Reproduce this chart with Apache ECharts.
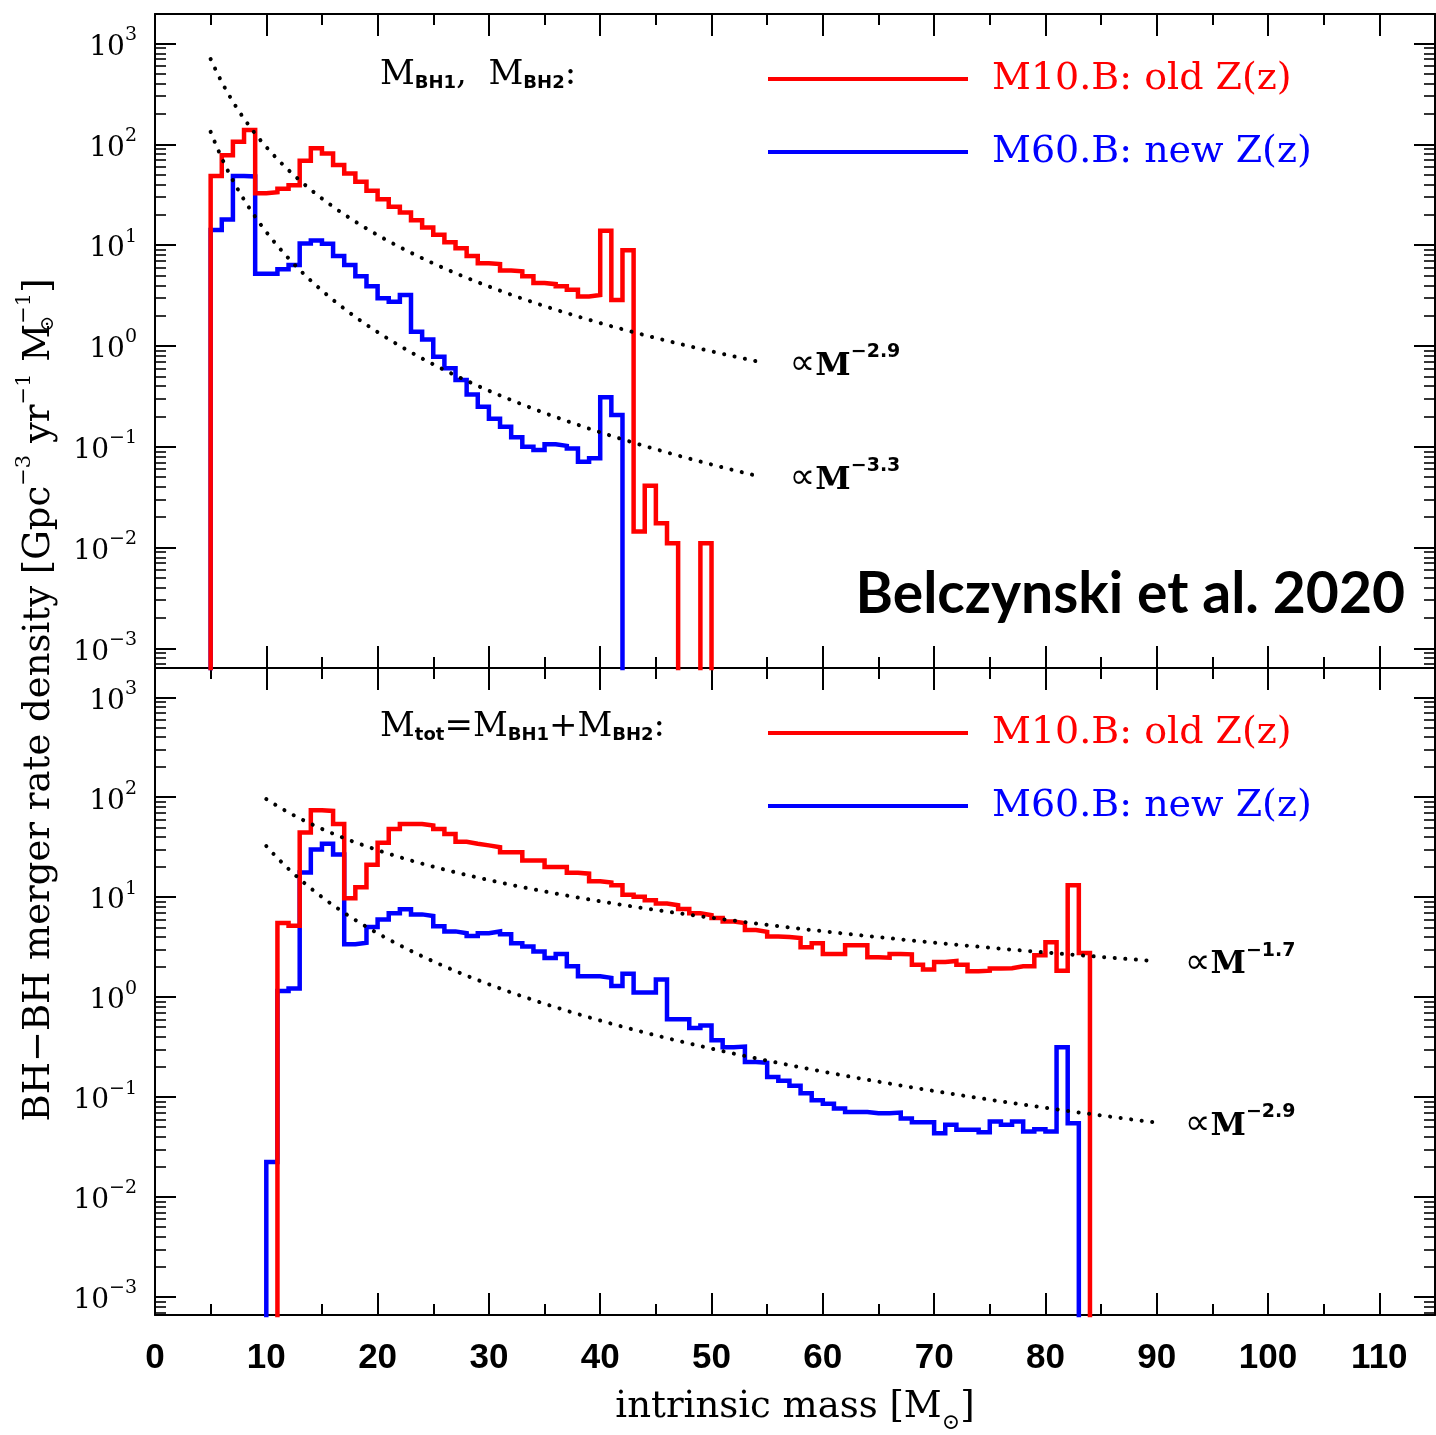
<!DOCTYPE html>
<html>
<head>
<meta charset="utf-8">
<script src="https://cdn.jsdelivr.net/npm/echarts@6/dist/echarts.min.js"></script>
<style>
  html, body { margin: 0; padding: 0; background: #ffffff; }
  #chart { width: 1436px; height: 1435px; }
</style>
</head>
<body>
<div id="chart"></div>
<script>
// ---- Data: BH-BH merger rate density, 1 Msun wide mass bins ----
const seriesNames = ['M10.B: old Z(z)', 'M60.B: new Z(z)'];

// Upper panel: component masses (M_BH1, M_BH2); bins start at 5 Msun
const topRedStart = 5;
const topRed = [48.5, 78, 106, 139, 32.7, 33.5, 36.3, 39.2, 68.8, 91.2,
  81.3, 62.3, 51.5, 42.6, 34.7, 28.5, 24.0, 21.1, 17.7, 15.0,
  12.7, 10.7, 9.3, 7.8, 6.6, 6.5, 5.6, 5.5, 4.9, 4.2,
  4.1, 3.9, 3.6, 3.1, 3.2, 13.9, 2.85, 8.9, 0.0144, 0.041,
  0.0174, 0.011, 0, 0, 0.011];
const topBlueStart = 5;
const topBlue = [14.1, 18.0, 48.5, 48, 5.2, 5.2, 5.75, 6.35, 10.4, 11.1,
  10.3, 7.8, 6.35, 4.9, 3.9, 2.97, 2.75, 3.2, 1.38, 1.16,
  0.78, 0.60, 0.46, 0.33, 0.25, 0.19, 0.158, 0.124, 0.100, 0.093,
  0.106, 0.102, 0.096, 0.071, 0.077, 0.31, 0.206];

// Lower panel: total mass M_tot = M_BH1 + M_BH2
const botRedStart = 11;
const botRed = [5.53, 5.19, 44.4, 74.1, 73, 54.1, 9.75, 12.6, 21.1, 35.1,
  48.2, 54.1, 54.1, 52.1, 48.2, 42.8, 35.9, 34.3, 33, 31.6,
  28.2, 28.2, 23.3, 23.3, 20.0, 20.0, 17.6, 17.2, 14.4, 14.0,
  13.2, 10.6, 10.1, 9.3, 8.65, 8.3, 7.6, 6.9, 6.6, 6.2,
  5.7, 5.5, 4.7, 4.5, 4.05, 4.0, 3.9, 3.15, 3.47, 2.70,
  2.70, 3.30, 3.30, 2.50, 2.48, 2.70, 2.68, 2.11, 1.89, 2.25,
  2.3, 2.11, 1.82, 1.84, 1.93, 1.95, 2.04, 2.04, 2.62, 3.55,
  1.84, 13.2, 2.77];
const botBlueStart = 10;
const botBlue = [0.0224, 1.15, 1.22, 17.7, 30.0, 34.3, 26.7, 3.39, 3.5, 5.03,
  5.98, 6.9, 7.57, 6.73, 6.48, 5.11, 4.55, 4.36, 4.1, 4.36,
  4.54, 4.27, 3.47, 3.22, 2.87, 2.47, 2.70, 2.04, 1.62, 1.62,
  1.56, 1.29, 1.71, 1.11, 1.11, 1.50, 0.60, 0.60, 0.49, 0.52,
  0.37, 0.315, 0.32, 0.224, 0.22, 0.159, 0.146, 0.13, 0.109, 0.093,
  0.086, 0.077, 0.071, 0.071, 0.069, 0.069, 0.070, 0.061, 0.056, 0.056,
  0.0436, 0.0528, 0.0471, 0.0471, 0.0446, 0.0569, 0.0528, 0.0569, 0.0453, 0.0478,
  0.0453, 0.315, 0.0547];

// Reference power laws  A * (M/10)^(-k): exponents, value at M = 10, mass range
const topPowerExp = [2.9, 3.3];
const topPowerAt10 = [94, 13.5];
const topPowerRange = [5, 54.5];
const botPowerExp = [1.7, 2.9];
const botPowerAt10 = [96, 32.5];
const botPowerRange = [10, 90];

// Axis ranges
const massRange = [0, 115];
const topLogRange = [-3.195, 3.293];
const botLogRange = [-3.18, 3.293];

// ---- helpers ----
const FLOOR = 1e-6;               // empty bins drop below the axis
const SERIF = '"DejaVu Serif", serif';
const BOLDSANS = '"Liberation Sans", "DejaVu Sans", sans-serif';
const RED = '#ff0000', BLUE = '#0000ff';

function histSteps(start, vals) {
  const pts = [[start, FLOOR]];
  vals.forEach((v, i) => pts.push([start + i, v > 0 ? v : FLOOR]));
  pts.push([start + vals.length, FLOOR]);
  return pts;
}
function powerLaw(k, at10, range) {
  const pts = [];
  for (let m = range[0]; m <= range[1] + 1e-9; m += 0.5) {
    pts.push([m, at10 * Math.pow(m / 10, -k)]);
  }
  return pts;
}
function expLabel(v) {
  const l = Math.log10(v);
  const e = Math.round(l);
  if (Math.abs(l - e) > 1e-6) return '';
  return '{b|10}{s|' + (e < 0 ? '\u2212' + (-e) : e) + '}';
}

function xAxisCfg(gridIndex, position, withLabels) {
  const cfg = {
    type: 'value', gridIndex, position, min: massRange[0], max: massRange[1], interval: 10,
    axisLine: { show: true, onZero: false, lineStyle: { color: '#000', width: 2 } },
    axisTick: { show: true, inside: true, length: 22, lineStyle: { color: '#000', width: 2 } },
    minorTick: { show: true, splitNumber: 2, length: 11, lineStyle: { color: '#000', width: 2 } },
    splitLine: { show: false },
    minorSplitLine: { show: false },
    axisLabel: { show: false }
  };
  if (withLabels) {
    cfg.axisLabel = {
      show: true, showMaxLabel: false, margin: 26,
      fontFamily: BOLDSANS, fontWeight: 'bold', fontSize: 35, color: '#000'
    };
    cfg.name = 'intrinsic mass [M{sub|\u2299}]';
    cfg.nameLocation = 'middle';
    cfg.nameGap = 74;
    cfg.nameTextStyle = {
      fontFamily: SERIF, fontSize: 37, color: '#000',
      rich: { sub: { fontFamily: SERIF, fontSize: 22, verticalAlign: 'bottom', lineHeight: 22, padding: [0, 0, -8, 0] } }
    };
  }
  return cfg;
}

function yAxisCfg(gridIndex, position, range, withLabels) {
  return {
    type: 'log', logBase: 10, gridIndex, position,
    min: Math.pow(10, range[0]), max: Math.pow(10, range[1]),
    axisLine: { show: true, onZero: false, lineStyle: { color: '#000', width: 2 } },
    axisTick: { show: true, inside: true, length: 21, lineStyle: { color: '#000', width: 2 } },
    minorTick: { show: true, splitNumber: 9, length: 11, lineStyle: { color: '#000', width: 1.6 } },
    splitLine: { show: false },
    minorSplitLine: { show: false },
    axisLabel: withLabels ? {
      show: true, showMinLabel: false, showMaxLabel: false, margin: 18,
      formatter: expLabel,
      rich: {
        b: { fontFamily: SERIF, fontSize: 28, lineHeight: 36, verticalAlign: 'bottom', color: '#000' },
        s: { fontFamily: SERIF, fontSize: 19, lineHeight: 19, verticalAlign: 'top', color: '#000' }
      }
    } : { show: false }
  };
}

function histSeries(name, color, xi, yi, start, vals) {
  return {
    name, type: 'line', xAxisIndex: xi, yAxisIndex: yi, step: 'end',
    data: histSteps(start, vals), symbol: 'none', showSymbol: false,
    lineStyle: { color, width: 4.5, join: 'miter' }, itemStyle: { color },
    clip: true, silent: true, z: 3
  };
}

const powerRich = {
  p: { fontFamily: '"DejaVu Sans", sans-serif', fontSize: 36, lineHeight: 40, verticalAlign: 'bottom', color: '#000' },
  m: { fontFamily: SERIF, fontWeight: 'bold', fontSize: 32, lineHeight: 40, verticalAlign: 'bottom', color: '#000' },
  s: { fontFamily: '"DejaVu Sans", sans-serif', fontWeight: 'bold', fontSize: 19, lineHeight: 19, verticalAlign: 'top', color: '#000' }
};
function powerSeries(k, at10, range, xi, yi) {
  return {
    type: 'line', xAxisIndex: xi, yAxisIndex: yi,
    data: powerLaw(k, at10, range), symbol: 'none', showSymbol: false,
    lineStyle: { color: '#000', width: 4, type: [0.1, 10.5], cap: 'round' },
    clip: true, silent: true, z: 4,
    endLabel: {
      show: true, distance: 28,
      formatter: '{p|\u221D}{m|M}{s|\u2212' + k.toFixed(1) + '}',
      rich: powerRich
    }
  };
}

const legendText = { fontFamily: SERIF, fontSize: 38, lineHeight: 36, padding: [0, 0, 0, 19] };
function legendCfg(top) {
  return {
    left: 768, top, padding: 0, orient: 'vertical', icon: 'rect',
    itemWidth: 200, itemHeight: 4, itemGap: 35, selectedMode: false,
    textStyle: legendText,
    data: [
      { name: seriesNames[0], textStyle: { color: RED } },
      { name: seriesNames[1], textStyle: { color: BLUE } }
    ]
  };
}

const subRich = {
  m: { fontFamily: SERIF, fontSize: 34, lineHeight: 40, verticalAlign: 'bottom', fill: '#000' },
  sb: { fontFamily: '"DejaVu Sans", sans-serif', fontWeight: 'bold', fontSize: 18, lineHeight: 18, verticalAlign: 'bottom', fill: '#000' }
};

const chart = echarts.init(document.getElementById('chart'), null, { renderer: 'canvas' });
chart.setOption({
  animation: false,
  backgroundColor: '#ffffff',
  grid: [
    { left: 155, right: 1, top: 14, height: 654, containLabel: false },
    { left: 155, right: 1, top: 668, height: 652, containLabel: false }
  ],
  xAxis: [
    xAxisCfg(0, 'bottom', false),
    xAxisCfg(0, 'top', false),
    xAxisCfg(1, 'bottom', true),
    xAxisCfg(1, 'top', false)
  ],
  yAxis: [
    yAxisCfg(0, 'left', topLogRange, true),
    yAxisCfg(0, 'right', topLogRange, false),
    yAxisCfg(1, 'left', botLogRange, true),
    yAxisCfg(1, 'right', botLogRange, false)
  ],
  legend: [legendCfg(60), legendCfg(714)],
  series: [
    histSeries(seriesNames[1], BLUE, 0, 0, topBlueStart, topBlue),
    histSeries(seriesNames[0], RED, 0, 0, topRedStart, topRed),
    histSeries(seriesNames[1], BLUE, 2, 2, botBlueStart, botBlue),
    histSeries(seriesNames[0], RED, 2, 2, botRedStart, botRed),
    powerSeries(topPowerExp[0], topPowerAt10[0], topPowerRange, 0, 0),
    powerSeries(topPowerExp[1], topPowerAt10[1], topPowerRange, 0, 0),
    powerSeries(botPowerExp[0], botPowerAt10[0], botPowerRange, 2, 2),
    powerSeries(botPowerExp[1], botPowerAt10[1], botPowerRange, 2, 2)
  ],
  graphic: [
    {
      type: 'text', left: 380, top: 58, silent: true,
      style: { text: '{m|M}{sb|BH1}{m|,  M}{sb|BH2}{m|:}', rich: subRich }
    },
    {
      type: 'text', left: 380, top: 710, silent: true,
      style: { text: '{m|M}{sb|tot}{m|=M}{sb|BH1}{m|+M}{sb|BH2}{m|:}', rich: subRich }
    },
    {
      type: 'text', right: 31, top: 566, silent: true,
      style: {
        text: 'Belczynski et al. 2020',
        font: 'bold 57px "Lato", "Liberation Sans", sans-serif', fill: '#000'
      }
    },
    {
      type: 'text', x: 36, y: 700, rotation: Math.PI / 2, silent: true,
      style: {
        text: '{t|BH\u2212BH merger rate density [Gpc}{s|\u22123}{t| yr}{s|\u22121}{t| M}{o|\u2299}{s|\u22121}{t|]}',
        align: 'center', verticalAlign: 'middle',
        rich: {
          t: { fontFamily: SERIF, fontSize: 37, lineHeight: 44, verticalAlign: 'bottom', fill: '#000' },
          s: { fontFamily: SERIF, fontSize: 21, lineHeight: 21, verticalAlign: 'top', fill: '#000' },
          o: { fontFamily: SERIF, fontSize: 19, lineHeight: 19, width: 0.01, verticalAlign: 'bottom', fill: '#000' }
        }
      }
    }
  ]
});
</script>
</body>
</html>
